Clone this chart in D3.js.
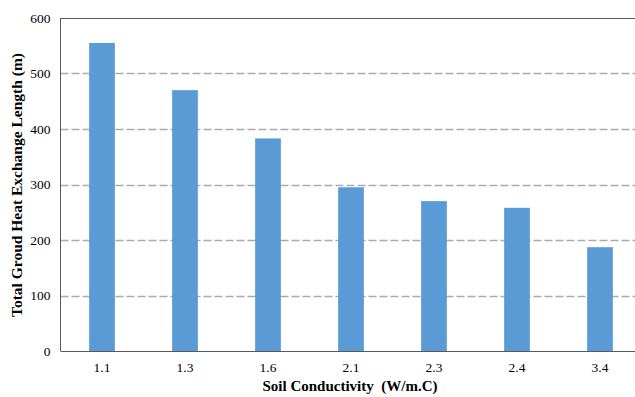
<!DOCTYPE html>
<html><head><meta charset="utf-8">
<script src="https://cdn.jsdelivr.net/npm/d3@7"></script>
<style>body{margin:0;background:#fff}svg{display:block}</style>
</head><body>
<svg id="c" width="635" height="397"></svg>
<script>
const categories = ["1.1","1.3","1.6","2.1","2.3","2.4","3.4"];
const values = [555, 470, 383, 295, 270, 258, 187];
const yTicks = [0,100,200,300,400,500,600];
const xTitle = "Soil Conductivity  (W/m.C)";
const yTitle = "Total Groud Heat Exchange Length (m)";

const svg = d3.select("#c");
const L = 60.5, T = 18, B = 351, R = 641.5;
const x = d3.scaleBand().domain(categories).range([L, R]).paddingInner(0.69).paddingOuter(0.345);
const y = d3.scaleLinear().domain([0, 600]).range([B, T]);
const FF = "Liberation Serif, Times New Roman, serif";

svg.append("g").selectAll("line").data(yTicks.filter(d => d > 0 && d < 600)).join("line")
  .attr("x1", L).attr("x2", R).attr("y1", d => Math.round(y(d)) + 0.5).attr("y2", d => Math.round(y(d)) + 0.5)
  .attr("stroke", "#ababab").attr("stroke-width", 1.3).attr("stroke-dasharray", "8,3");

svg.append("g").selectAll("rect").data(values).join("rect")
  .attr("x", (d, i) => x(categories[i])).attr("width", x.bandwidth())
  .attr("y", d => y(d)).attr("height", d => B - y(d))
  .attr("fill", "#5b9bd5");

svg.append("line").attr("x1", L).attr("x2", R).attr("y1", T + 0.5).attr("y2", T + 0.5).attr("stroke", "#595959").attr("stroke-width", 1);
svg.append("line").attr("x1", L).attr("x2", L).attr("y1", T).attr("y2", B).attr("stroke", "#595959").attr("stroke-width", 1);

const ya = svg.append("g").attr("transform", `translate(${L},0)`)
  .call(d3.axisLeft(y).tickValues(yTicks).tickSize(0).tickPadding(10));
ya.select(".domain").remove();
ya.selectAll("text").attr("font-family", FF).attr("font-size", 13.5).attr("fill", "#000");

const xa = svg.append("g").attr("transform", `translate(0,${B})`)
  .call(d3.axisBottom(x).tickSize(0).tickPadding(11));
xa.select(".domain").attr("stroke", "#595959").attr("d", `M${L},0.5H${R}`);
xa.selectAll("text").attr("font-family", FF).attr("font-size", 13.5).attr("fill", "#000");

svg.append("text").attr("x", 350).attr("y", 391).attr("text-anchor", "middle")
  .style("white-space", "pre")
  .attr("font-family", FF).attr("font-size", 15).attr("font-weight", "bold").text(xTitle);
svg.append("text").attr("transform", `translate(22,185) rotate(-90)`).attr("text-anchor", "middle")
  .attr("font-family", FF).attr("font-size", 15.5).attr("font-weight", "bold").text(yTitle);
</script>
</body></html>
